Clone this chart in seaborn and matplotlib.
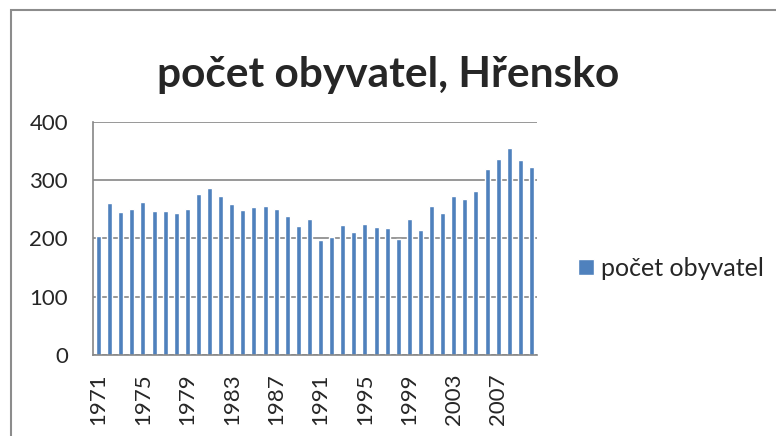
import numpy as np
import pandas as pd
import matplotlib
matplotlib.use("Agg")
import matplotlib.pyplot as plt
from matplotlib.patches import Rectangle
import seaborn as sns

years = [str(y) for y in range(1971, 2011)]
population = [204, 261, 246, 250, 262, 247, 247, 244, 250, 277,
              286, 273, 260, 249, 254, 256, 251, 239, 222, 233,
              198, 203, 223, 211, 225, 219, 218, 199, 234, 215,
              255, 243, 273, 267, 281, 319, 337, 355, 335, 323]
series_name = "počet obyvatel"
chart_title = "počet obyvatel, Hřensko"

df = pd.DataFrame({"rok": years, "obyvatel": population})

sns.set_style("white")
plt.rcParams['font.family'] = ['Lato', 'DejaVu Sans']

fig = plt.figure(figsize=(7.76, 4.36), dpi=100)
ax = fig.add_axes([93/776, 1-355/436, (537-93)/776, (355-122)/436])

sns.barplot(data=df, x="rok", y="obyvatel", color="#4F81BD", saturation=1,
            width=0.45, ax=ax, label=series_name)

ax.set_ylim(0, 400)
ax.set_xlim(-0.5, len(years) - 0.5)
ax.set_yticks([0, 100, 200, 300, 400])
ax.set_yticklabels(["0", "100", "200", "300", "400"], fontsize=16)
ax.set_xticks(range(0, len(years), 4))
ax.set_xticklabels(years[::4], rotation=90, fontsize=16)
ax.tick_params(axis="x", length=0, pad=13)
ax.tick_params(axis="y", length=0, pad=18)
ax.set_xlabel("")
ax.set_ylabel("")
ax.yaxis.grid(True, color="#868686", linewidth=1.2)
ax.set_axisbelow(True)
for side in ["top", "right"]:
    ax.spines[side].set_visible(False)
for side in ["left", "bottom"]:
    ax.spines[side].set_color("#868686")
    ax.spines[side].set_linewidth(1.2)

leg = ax.legend(loc="center left", bbox_to_anchor=(1.07, 0.373), frameon=False,
                fontsize=18, handlelength=0.62, handleheight=0.62, handletextpad=0.3,
                borderaxespad=0)

fig.text(0.5, 1-87/436, chart_title, ha="center", va="baseline",
         fontsize=30.5, fontweight="bold")

fig.patches.append(Rectangle((11/776, -0.1), 1.2, 1.1 - 10/436,
                             transform=fig.transFigure, fill=False,
                             edgecolor="#8c8c8c", linewidth=1.5, figure=fig))

fig.savefig("out.png", dpi=100)
